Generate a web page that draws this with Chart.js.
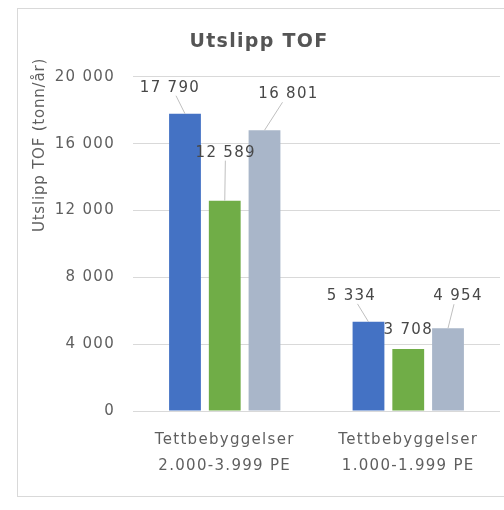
<!DOCTYPE html>
<html lang="no">
<head>
<meta charset="UTF-8">
<title>Utslipp TOF</title>
<script src="https://cdn.jsdelivr.net/npm/chart.js"></script>
<style>
    body {
        margin: 0;
        background: #ffffff;
        overflow: hidden;
        width: 504px;
        height: 510px;
        position: relative;
    }
    .chart-box {
        position: absolute;
        left: 17px;
        top: 8px;
        width: 494px;
        height: 487px;
        border: 1px solid #d9d9d9;
        background: #ffffff;
    }
</style>
</head>
<body>
<div class="chart-box">
    <canvas id="tofChart"></canvas>
</div>
<script>
// Utslipp TOF (tonn/år) per størrelsesklasse
const categories = [
    ['Tettbebyggelser', '2.000-3.999 PE'],
    ['Tettbebyggelser', '1.000-1.999 PE']
];
const seriesA = [17790, 5334];
const seriesB = [12589, 3708];
const seriesC = [16801, 4954];
const yTicks = [0, 4000, 8000, 12000, 16000, 20000];

const colors = ['#4472c4', '#70ad47', '#a9b6c9'];

// label placement relative to bar top, [dx, dy] per dataset/bar
const labelShift = [
    [[-15, -26], [-17, -26]],
    [[1, -48], [0, -19]],
    [[24, -36], [10, -32]]
];

const textGray = '#5f5f5f';
const fontFam = '"DejaVu Sans", sans-serif';

function fmt(v) {
    return String(v).replace(/\B(?=(\d{3})+(?!\d))/g, ' ');
}

// slightly tracked-out text everywhere
const spacing = {
    id: 'spacing',
    beforeLayout(chart) { chart.ctx.letterSpacing = '1.3px'; },
    beforeDraw(chart) { chart.ctx.letterSpacing = '1.3px'; }
};

const dataLabels = {
    id: 'dataLabels',
    afterDatasetsDraw(chart) {
        const ctx = chart.ctx;
        ctx.save();
        ctx.font = '15px ' + fontFam;
        ctx.textAlign = 'center';
        ctx.textBaseline = 'middle';
        chart.data.datasets.forEach((ds, i) => {
            chart.getDatasetMeta(i).data.forEach((bar, j) => {
                const [dx, dy] = labelShift[i][j];
                const lx = bar.x + dx;
                const ly = bar.y + dy;
                if (dy < -22) {
                    const diff = bar.x - lx;
                    const sx = lx + Math.sign(diff) * Math.min(6, Math.abs(diff) * 0.4);
                    ctx.strokeStyle = '#bfbfbf';
                    ctx.lineWidth = 1;
                    ctx.beginPath();
                    ctx.moveTo(sx, ly + 8);
                    ctx.lineTo(bar.x, bar.y);
                    ctx.stroke();
                }
                ctx.fillStyle = '#484848';
                ctx.fillText(fmt(ds.data[j]), lx, ly);
            });
        });
        ctx.restore();
    }
};

const axisTitle = {
    id: 'axisTitle',
    afterDraw(chart) {
        const ctx = chart.ctx;
        ctx.save();
        ctx.letterSpacing = '0.8px';
        ctx.translate(22, 136);
        ctx.rotate(-Math.PI / 2);
        ctx.font = '15px ' + fontFam;
        ctx.fillStyle = textGray;
        ctx.textAlign = 'center';
        ctx.textBaseline = 'middle';
        ctx.fillText('Utslipp TOF (tonn/år)', 0, 0);
        ctx.restore();
    }
};

new Chart(document.getElementById('tofChart'), {
    type: 'bar',
    data: {
        labels: categories,
        datasets: [
            { data: seriesA, backgroundColor: colors[0] },
            { data: seriesB, backgroundColor: colors[1] },
            { data: seriesC, backgroundColor: colors[2] }
        ]
    },
    options: {
        responsive: true,
        maintainAspectRatio: false,
        animation: false,
        categoryPercentage: 0.65,
        barPercentage: 0.8,
        layout: { padding: { top: 22, right: 12, bottom: 0, left: 0 } },
        plugins: {
            legend: { display: false },
            tooltip: { enabled: false },
            title: {
                display: true,
                text: 'Utslipp TOF',
                color: '#555555',
                font: { family: fontFam, size: 19, weight: 'bold' },
                padding: { top: 0, bottom: 23 }
            }
        },
        scales: {
            x: {
                grid: { display: false, drawTicks: false },
                border: { display: false },
                ticks: {
                    color: textGray,
                    font: { family: fontFam, size: 15, lineHeight: 1.75 },
                    padding: 16,
                    maxRotation: 0
                },
                afterFit(scale) { scale.height = 85; }
            },
            y: {
                min: 0,
                max: 20000,
                afterBuildTicks(scale) {
                    scale.ticks = yTicks.map(v => ({ value: v }));
                },
                grid: { color: '#d9d9d9', drawTicks: false },
                border: { display: false },
                ticks: {
                    color: textGray,
                    font: { family: fontFam, size: 15 },
                    padding: 18,
                    callback: v => fmt(v)
                },
                afterFit(scale) { scale.width = 115; }
            }
        }
    },
    plugins: [spacing, dataLabels, axisTitle]
});
</script>
</body>
</html>
